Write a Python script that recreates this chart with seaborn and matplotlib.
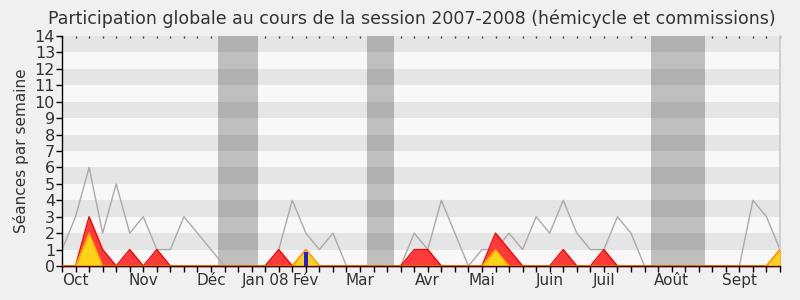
import numpy as np
import pandas as pd
import seaborn as sns
import matplotlib
matplotlib.use("Agg")
import matplotlib.pyplot as plt

# ---- data ----
weeks = list(range(54))
seances_total = [1, 3, 6, 2, 5, 2, 3, 1, 1, 3, 2, 1, 0, 0, 0, 0, 1, 4, 2, 1,
                 2, 0, 0, 0, 0, 0, 2, 1, 4, 2, 0, 1, 1, 2, 1, 3, 2, 4, 2, 1,
                 1, 3, 2, 0, 0, 0, 0, 0, 0, 0, 0, 4, 3, 1]
presences = [0, 0, 3, 1, 0, 1, 0, 1, 0, 0, 0, 0, 0, 0, 0, 0, 1, 0, 1, 0,
             0, 0, 0, 0, 0, 0, 1, 1, 0, 0, 0, 0, 2, 1, 0, 0, 0, 1, 0, 0,
             1, 0, 0, 0, 0, 0, 0, 0, 0, 0, 0, 0, 0, 1]
participations = [0, 0, 2, 0, 0, 0, 0, 0, 0, 0, 0, 0, 0, 0, 0, 0, 0, 0, 1, 0,
                  0, 0, 0, 0, 0, 0, 0, 0, 0, 0, 0, 0, 1, 0, 0, 0, 0, 0, 0, 0,
                  0, 0, 0, 0, 0, 0, 0, 0, 0, 0, 0, 0, 0, 1]
questions_week = [18]
questions_val = [0.85]
vacances_debut = [11.5, 22.5, 43.5]
vacances_fin = [14.5, 24.5, 47.5]
mois_labels = ["Oct", "Nov", "Déc", "Jan 08", "Fév", "Mar", "Avr", "Mai",
               "Juin", "Juil", "Août", "Sept"]
mois_weeks = [1, 6, 11, 15, 18, 22, 27, 31, 36, 40, 45, 50]

df = pd.DataFrame({"semaine": weeks, "total": seances_total,
                   "presences": presences, "participations": participations})

sns.set_theme(style="white")
plt.rcParams["font.family"] = ["DejaVu Sans"]

fig = plt.figure(figsize=(8, 3), dpi=100, facecolor="#f0f0f0")
ax = fig.add_axes([0.0775, 0.1133, 0.8975, 0.7667])
ax.set_facecolor("#f8f8f8")

# vacation bands
for d, f in zip(vacances_debut, vacances_fin):
    ax.axvspan(d, f, color="#bfbfbf", lw=0, zorder=0.5)
# horizontal stripes
for y0 in range(1, 14, 2):
    ax.axhspan(y0, y0 + 1, color="black", alpha=0.075, lw=0, zorder=0.6)

# gray total line
sns.lineplot(data=df, x="semaine", y="total", color="#aaaaaa", lw=1,
             ax=ax, zorder=2)

# red presences area
ax.fill_between(df["semaine"], 0, df["presences"], color="#ff3a3a",
                lw=0, zorder=3)
sns.lineplot(data=df, x="semaine", y="presences", color="#ff0000", lw=1,
             ax=ax, zorder=3.5)
# yellow participations area
ax.fill_between(df["semaine"], 0, df["participations"], color="#ffd21a",
                lw=0, zorder=4)
sns.lineplot(data=df, x="semaine", y="participations", color="#ffaa00",
             lw=1, ax=ax, zorder=4.5)
# blue questions
ax.bar(questions_week, questions_val, width=0.3, color="#2020dd", lw=0,
       zorder=5)
# baseline
ax.plot([0, 53], [0, 0], color="#550000", lw=1, zorder=6, clip_on=False)

ax.set_xlim(0, 53)
ax.set_ylim(0, 14)
ax.set_yticks(range(0, 15))
ax.set_xticks(weeks, minor=True)
ax.set_xticks(mois_weeks)
ax.set_xticklabels(mois_labels)

for s in ["left", "bottom"]:
    ax.spines[s].set_color("black")
    ax.spines[s].set_linewidth(1)
ax.spines["top"].set_visible(False)
ax.spines["right"].set_color("#cccccc")

ax.tick_params(axis="y", which="major", left=True, length=4, width=1,
               color="black", labelsize=11.5, labelcolor="#333333", pad=1)
ax.tick_params(axis="x", which="both", bottom=True, top=False, length=4,
               width=1, color="black", direction="out", labelsize=11,
               labelcolor="#333333", pad=1)

# small inward ticks along the top
sec = ax.secondary_xaxis("top")
sec.set_xticks(weeks)
sec.tick_params(direction="in", length=1.5, width=1, color="#444444",
                labeltop=False)
sec.spines["top"].set_visible(False)

ax.set_xlabel("")
ax.set_ylabel("Séances par semaine", fontsize=11, color="#333333", labelpad=4)
fig.suptitle("Participation globale au cours de la session 2007-2008 "
             "(hémicycle et commissions)", fontsize=12.5, color="#333333",
             x=0.515, y=0.905, va="bottom")

fig.savefig("out.png", dpi=100, facecolor=fig.get_facecolor())
